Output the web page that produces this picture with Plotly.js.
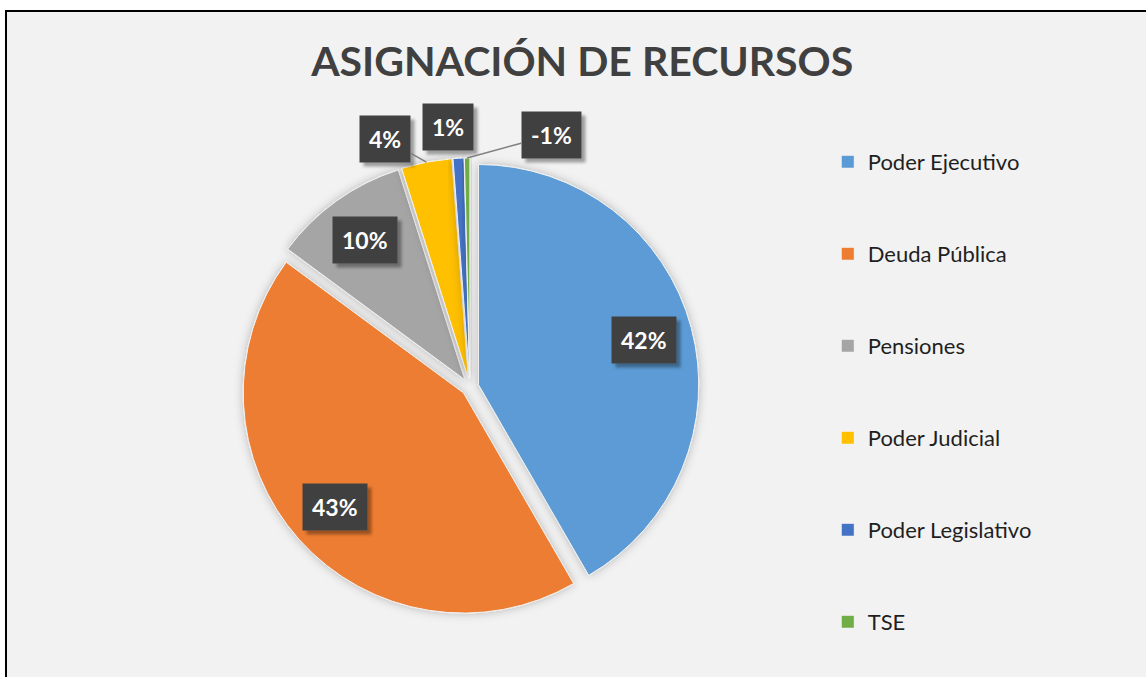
<!DOCTYPE html>
<html>
<head>
<meta charset="utf-8">
<script src="https://cdn.plot.ly/plotly-3.0.1.min.js"></script>
<style>
  html, body { margin:0; padding:0; background:#ffffff; overflow:hidden; width:1146px; height:677px; }
  #chart { position:absolute; left:5px; top:10px; width:1139px; height:665px;
           border-left:2px solid #000; border-top:2px solid #000; }
</style>
</head>
<body>
<div id="chart"></div>
<script>
// ---- data ----
const categories = ['Poder Ejecutivo', 'Deuda Pública', 'Pensiones', 'Poder Judicial', 'Poder Legislativo', 'TSE'];
const shares = [41.7, 43.5, 10.0, 3.7, 0.8, 0.4];
const shareLabels = ['42%', '43%', '10%', '4%', '1%', '-1%'];
const sliceColors = ['#5B9BD5', '#ED7D31', '#A5A5A5', '#FFC000', '#4472C4', '#70AD47'];

// ---- layout constants ----
const W = 1139, H = 665;
const domX = [0.2054, 0.6076], domY = [0.0917, 0.7805];
const PULL = 0.04;
const insideFactor = 0.78;               // radial position of inside labels
const outsideOffsets = [[-41, -23], [-11, -31], [84, -23]]; // pixel offsets for small slices

// pie geometry (same rule Plotly uses)
const dwPx = (domX[1] - domX[0]) * W, dhPx = (domY[1] - domY[0]) * H;
const R = Math.min(dwPx, dhPx) / 2 / (1 + PULL);
const cx = (domX[0] + domX[1]) / 2, cy = (domY[0] + domY[1]) / 2;
const total = shares.reduce((a, b) => a + b, 0);

const annotations = [];
let cum = 0;
shares.forEach((v, i) => {
  const mid = (cum + v / 2) / total * 2 * Math.PI;
  cum += v;
  const base = {
    xref: 'paper', yref: 'paper', xanchor: 'center', yanchor: 'middle',
    text: '<b>' + shareLabels[i] + '</b>', borderpad: 9, bgcolor: '#404040',
    font: { family: 'Lato, sans-serif', size: 23, color: '#ffffff' }
  };
  if (i < 3) {
    const rr = (insideFactor + PULL) * R;
    annotations.push(Object.assign({}, base, {
      x: cx + rr * Math.sin(mid) / W, y: cy + rr * Math.cos(mid) / H, showarrow: false
    }));
  } else {
    const rr = (1 + PULL) * R;
    const off = outsideOffsets[i - 3];
    annotations.push(Object.assign({}, base, {
      x: cx + rr * Math.sin(mid) / W, y: cy + rr * Math.cos(mid) / H,
      showarrow: true, arrowhead: 0, arrowwidth: 1.5,
      arrowcolor: i === 4 ? 'rgba(0,0,0,0)' : '#7f7f7f',
      ax: off[0], ay: off[1]
    }));
  }
});

const trace = {
  type: 'pie',
  labels: categories,
  values: shares,
  sort: false,
  direction: 'clockwise',
  rotation: 0,
  pull: shares.map(() => PULL),
  textinfo: 'none',
  hoverinfo: 'label+percent',
  marker: { colors: sliceColors, line: { color: '#f2f2f2', width: 1 } },
  domain: { x: domX, y: domY }
};

const layout = {
  width: W, height: H,
  margin: { l: 0, r: 0, t: 0, b: 0 },
  paper_bgcolor: '#f2f2f2',
  font: { family: 'Lato, sans-serif' },
  title: {
    text: '<b>ASIGNACIÓN DE RECURSOS</b>',
    font: { family: 'Lato, sans-serif', size: 41, color: '#404040' },
    x: 0.505, xanchor: 'center', xref: 'paper',
    y: 0.925, yanchor: 'middle', yref: 'container'
  },
  showlegend: true,
  legend: {
    x: 0.7206, xanchor: 'left', y: 0.806, yanchor: 'top',
    bgcolor: 'rgba(0,0,0,0)',
    font: { family: 'Lato, sans-serif', size: 22, color: '#1f1f1f' }
  },
  annotations: annotations
};

Plotly.newPlot('chart', [trace], layout, { displayModeBar: false, staticPlot: true }).then(() => {
  // spread legend entries vertically like the reference
  const items = document.querySelectorAll('#chart .legend .traces');
  const GAP = 92;
  let y0 = null, x0 = 0;
  items.forEach((g, i) => {
    const m = /translate\(([-\d.]+),\s*([-\d.]+)\)/.exec(g.getAttribute('transform') || '');
    if (m) {
      if (y0 === null) { y0 = parseFloat(m[2]); x0 = parseFloat(m[1]); }
      g.setAttribute('transform', 'translate(' + x0 + ',' + (y0 + i * GAP) + ')');
    }
  });
  document.querySelectorAll('#chart .legend .scrollbox').forEach(s => s.removeAttribute('clip-path'));
  document.querySelectorAll('#chart .legend').forEach(s => s.removeAttribute('clip-path'));
  // slightly larger legend swatches (keep Plotly's own offset)
  document.querySelectorAll('#chart .legend .legendpoints path').forEach(p => {
    const t = p.getAttribute('transform') || '';
    p.setAttribute('transform', t + ' scale(1.1)');
  });

  const svgs = document.querySelectorAll('#chart svg.main-svg');
  const svg = svgs[0];
  const ns = 'http://www.w3.org/2000/svg';
  function addFilter(target, id, dx, dy, sd, op) {
    let defs = target.querySelector('defs');
    if (!defs) { defs = document.createElementNS(ns, 'defs'); target.insertBefore(defs, target.firstChild); }
    const f = document.createElementNS(ns, 'filter');
    f.setAttribute('id', id);
    f.setAttribute('x', '-30%'); f.setAttribute('y', '-30%');
    f.setAttribute('width', '160%'); f.setAttribute('height', '160%');
    const ds = document.createElementNS(ns, 'feDropShadow');
    ds.setAttribute('dx', dx); ds.setAttribute('dy', dy);
    ds.setAttribute('stdDeviation', sd);
    ds.setAttribute('flood-color', '#000'); ds.setAttribute('flood-opacity', op);
    f.appendChild(ds); defs.appendChild(f);
  }
  addFilter(svg, 'pieShadow', 0, 0, 5, 0.25);
  document.querySelectorAll('#chart .pielayer .slice path.surface').forEach(p => p.setAttribute('filter', 'url(#pieShadow)'));
  // shadow behind label boxes
  svgs.forEach((s, k) => addFilter(s, 'boxShadow' + k, 4, 4, 1.5, 0.35));
  svgs.forEach((s, k) => s.querySelectorAll('.annotation rect.bg').forEach(r => r.setAttribute('filter', 'url(#boxShadow' + k + ')')));
});
</script>
</body>
</html>
